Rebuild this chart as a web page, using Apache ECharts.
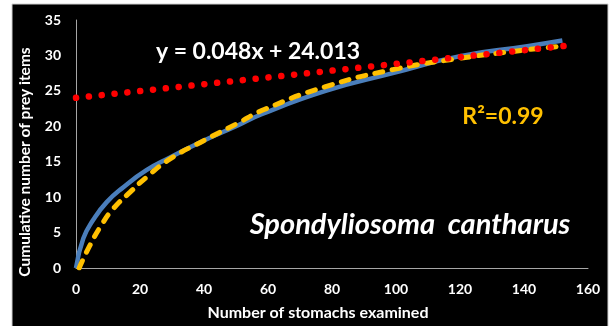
<!DOCTYPE html>
<html>
<head>
<meta charset="utf-8">
<script src="https://cdn.jsdelivr.net/npm/echarts@6/dist/echarts.min.js"></script>
<style>
  html, body { margin: 0; padding: 0; background: #fff; }
  #main { width: 613px; height: 326px; }
</style>
</head>
<body>
<div id="main"></div>
<script>
// observed cumulative curve (blue)
const observedX = [0, 2.3, 5.4, 9.6, 14.8, 22, 29.4, 40, 50, 58, 78, 99, 120, 141, 152]
const observedY = [0, 4.2, 6.8, 9.3, 11.4, 13.8, 15.6, 18.0, 20.0, 21.7, 25.0, 27.5, 29.9, 31.3, 32.1]
// fitted curve (yellow dashed)
const fittedX = [1, 3.9, 8, 11.7, 16.9, 22, 29.4, 40, 50, 59, 78, 99, 120, 141, 152]
const fittedY = [0, 2.8, 6.1, 8.4, 10.7, 12.8, 15.4, 18.0, 20.3, 22.4, 25.6, 28.0, 29.6, 30.8, 31.3]
// linear trend y = 0.048x + 24.013 (red dotted), end points
const trendX = [0, 153]
const trendY = [24.013, 31.357]

const xTicks = [0, 20, 40, 60, 80, 100, 120, 140, 160]
const yTicks = [0, 5, 10, 15, 20, 25, 30, 35]

const pair = (xs, ys) => xs.map((x, i) => [x, ys[i]])

const chart = echarts.init(document.getElementById('main'))
const font = 'Lato, "Open Sans", sans-serif'

const option = {
  backgroundColor: '#fff',
  animation: false,
  textStyle: { fontFamily: font },
  graphic: [
    {
      type: 'rect',
      z: -10,
      shape: { x: 12, y: 4, width: 596, height: 330 },
      style: { fill: '#000', stroke: '#d0d0d0', lineWidth: 1 },
      silent: true,
    },
    {
      type: 'text',
      x: 25, y: 162,
      rotation: Math.PI / 2,
      style: {
        text: 'Cumulative number of prey items',
        fill: '#fff', font: 'bold 15.5px ' + font,
        align: 'center', verticalAlign: 'middle',
      },
    },
    {
      type: 'text',
      x: 258, y: 52,
      style: {
        text: 'y = 0.048x + 24.013',
        fill: '#fff', font: 'bold 23px ' + font,
        align: 'center', verticalAlign: 'middle',
      },
    },
    {
      type: 'text',
      x: 503, y: 117,
      style: {
        text: 'R²=0.99',
        fill: '#ffc000', font: 'bold 23px ' + font,
        align: 'center', verticalAlign: 'middle',
      },
    },
    {
      type: 'text',
      x: 410, y: 225,
      style: {
        text: 'Spondyliosoma  cantharus',
        fill: '#fff', font: 'italic bold 29px ' + font,
        align: 'center', verticalAlign: 'middle',
      },
    },
  ],
  grid: { left: 76, right: 25, top: 20, bottom: 56 },
  xAxis: {
    type: 'value',
    min: xTicks[0],
    max: xTicks[xTicks.length - 1],
    interval: 20,
    name: 'Number of stomachs examined',
    nameLocation: 'middle',
    nameGap: 37,
    nameTextStyle: {
      color: '#fff', fontWeight: 'bold', fontSize: 16, fontFamily: font,
      padding: [0, 28, 0, 0],
    },
    axisLine: { lineStyle: { color: '#a6a6a6', width: 1 } },
    axisTick: { show: false },
    splitLine: { show: false },
    axisLabel: { color: '#fff', fontWeight: 'bold', fontSize: 14, margin: 14, fontFamily: font },
  },
  yAxis: {
    type: 'value',
    min: yTicks[0],
    max: yTicks[yTicks.length - 1],
    interval: 5,
    axisLine: { show: true, lineStyle: { color: '#a6a6a6', width: 1 } },
    axisTick: { show: false },
    splitLine: { show: false },
    axisLabel: { color: '#fff', fontWeight: 'bold', fontSize: 14, margin: 15, fontFamily: font },
  },
  series: [
    {
      name: 'observed',
      type: 'line',
      data: pair(observedX, observedY),
      smooth: true,
      showSymbol: false,
      lineStyle: { color: '#4a7ebb', width: 4.5 },
    },
    {
      name: 'fitted',
      type: 'line',
      data: pair(fittedX, fittedY),
      smooth: true,
      showSymbol: false,
      lineStyle: { color: '#ffc000', width: 5, type: [8, 9.5], cap: 'round' },
    },
    {
      name: 'trend',
      type: 'line',
      data: pair(trendX, trendY),
      showSymbol: false,
      lineStyle: { color: '#ff0000', width: 6.5, type: [0.1, 12.8], cap: 'round' },
    },
  ],
}

chart.setOption(option)
</script>
</body>
</html>
